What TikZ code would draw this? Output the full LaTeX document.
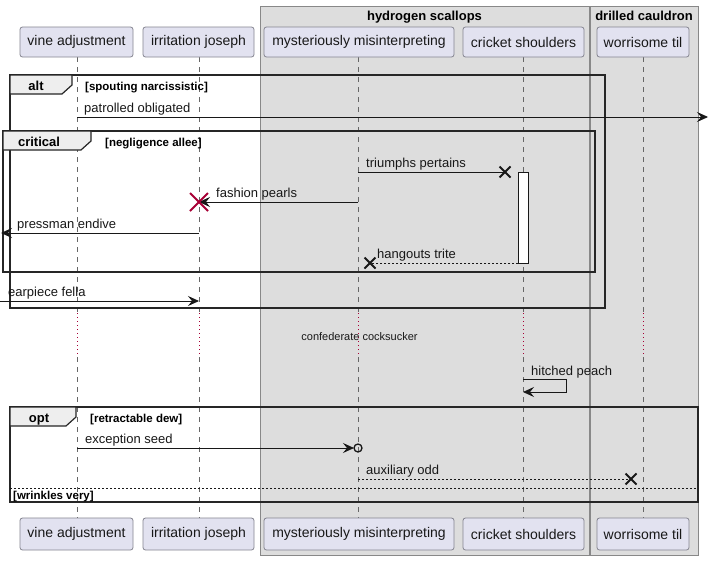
\documentclass[tikz,border=0pt]{standalone}
\usepackage{fontspec}
\setmainfont{Liberation Sans}
\usetikzlibrary{arrows.meta}
\definecolor{partfill}{HTML}{E2E2F0}
\definecolor{partdraw}{HTML}{858590}
\definecolor{groupfill}{HTML}{DDDDDD}
\definecolor{groupdraw}{HTML}{888888}
\definecolor{lifecol}{HTML}{666666}
\definecolor{delaycol}{HTML}{A80036}
\definecolor{tabfill}{HTML}{EEEEEE}
\definecolor{linecol}{HTML}{181818}
\tikzset{
  part/.style={draw=partdraw, fill=partfill, rounded corners=2.5pt, minimum height=30pt, inner sep=0pt,
    line width=0.8pt, font=\fontsize{14}{16}\selectfont, text=linecol},
  grp/.style={draw=groupdraw, fill=groupfill, line width=0.8pt},
  grptitle/.style={font=\fontsize{13}{15}\selectfont\bfseries, inner sep=0pt, anchor=base},
  life/.style={draw=lifecol, line width=0.6pt, dash pattern=on 5pt off 5pt},
  delayline/.style={draw=delaycol, line width=0.9pt, dash pattern=on 1pt off 3pt},
  frame/.style={draw=black!85, line width=1.6pt},
  tabbox/.style={draw=black!85, line width=1.2pt, fill=tabfill},
  tablbl/.style={font=\fontsize{13}{15}\selectfont\bfseries, inner sep=0pt, anchor=base},
  guard/.style={font=\fontsize{11.5}{13}\selectfont\bfseries, inner sep=0pt, anchor=base west},
  msg/.style={draw=linecol, line width=0.9pt},
  msgtip/.style={msg, -{Stealth[length=11pt, width=10pt, inset=4pt]}},
  dotmsg/.style={draw=linecol, line width=0.9pt, dash pattern=on 2pt off 2pt},
  lbl/.style={font=\fontsize{13}{15}\selectfont, inner sep=0pt, anchor=base west, text=linecol},
  xmark/.style={draw=linecol, line width=2pt},
  destroy/.style={draw=delaycol, line width=2pt},
}
\begin{document}
\begin{tikzpicture}[x=1pt, y=-1pt]
\useasboundingbox (0,0) rectangle (709,560);
\fill[white] (0,0) rectangle (709,560);

% group boxes
\path[grp] (260,6) rectangle (589,555);
\path[grp] (590,6) rectangle (698,555);
\node[grptitle] (g1) at (424.5,20) {hydrogen scallops};
\node[grptitle] (g2) at (644,20) {drilled cauldron};

% lifeline coordinates
\foreach \n/\x in {va/77, ij/199, mm/358, cs/523, wt/643}{
  \coordinate (\n-top) at (\x,57);
  \coordinate (\n-d1) at (\x,313);
  \coordinate (\n-d2) at (\x,357);
  \coordinate (\n-bot) at (\x,518);
  \draw[life] (\n-top) -- (\n-d1);
  \draw[delayline] (\n-d1) -- (\n-d2);
  \draw[life] (\n-d2) -- (\n-bot);
}

% participants
\node[part, minimum width=113pt] (vaT) at (76.5,42) {vine adjustment};
\node[part, minimum width=111pt] (ijT) at (198.5,42) {irritation joseph};
\node[part, minimum width=190pt] (mmT) at (359,42) {mysteriously misinterpreting};
\node[part, minimum width=121pt] (csT) at (523.5,42) {cricket shoulders};
\node[part, minimum width=92pt] (wtT) at (643,42) {worrisome til};
\node[part, minimum width=113pt, minimum height=32pt] (vaB) at (76.5,534) {vine adjustment};
\node[part, minimum width=111pt, minimum height=32pt] (ijB) at (198.5,534) {irritation joseph};
\node[part, minimum width=190pt, minimum height=32pt] (mmB) at (359,534) {mysteriously misinterpreting};
\node[part, minimum width=121pt, minimum height=32pt] (csB) at (523.5,534) {cricket shoulders};
\node[part, minimum width=92pt, minimum height=32pt] (wtB) at (643,534) {worrisome til};

% alt fragment
\draw[frame] (10,75) rectangle (605,308);
\draw[tabbox] (10,75) -- (72,75) -- (72,85) -- (62,94) -- (10,94) -- cycle;
\node[tablbl] (altl) at (36,90) {alt};
\node[guard] (altg) at (85,90) {[spouting narcissistic]};

% message: patrolled obligated
\coordinate (m1s) at (77,117);
\coordinate (m1e) at (708,117);
\draw[msgtip] (m1s) -- (m1e);
\node[lbl] (m1l) at (84,112) {patrolled obligated};

% critical fragment
\draw[frame] (3,131) rectangle (595,272);
\draw[tabbox] (3,131) -- (91,131) -- (91,141) -- (81,150) -- (3,150) -- cycle;
\node[tablbl] (critl) at (39,146) {critical};
\node[guard] (critg) at (105,146) {[negligence allee]};

% activation
\node[draw=linecol, fill=white, line width=0.8pt, minimum width=10pt, minimum height=91pt, inner sep=0pt] (act) at (523,217.5) {};

% triumphs pertains
\coordinate (m2s) at (358,172);
\coordinate (m2x) at (505,172);
\draw[msg] (m2s) -- (m2x);
\draw[xmark] ([shift={(-5.5,-5.5)}]m2x) -- ([shift={(5.5,5.5)}]m2x);
\draw[xmark] ([shift={(-5.5,5.5)}]m2x) -- ([shift={(5.5,-5.5)}]m2x);
\node[lbl] (m2l) at (366,167) {triumphs pertains};

% fashion pearls
\coordinate (m3s) at (358,202);
\coordinate (m3e) at (199,202);
\draw[msgtip] (m3s) -- (m3e);
\draw[destroy] ([shift={(-9,-9)}]m3e) -- ([shift={(9,9)}]m3e);
\draw[destroy] ([shift={(-9,9)}]m3e) -- ([shift={(9,-9)}]m3e);
\node[lbl] (m3l) at (216,197) {fashion pearls};

% pressman endive
\coordinate (m4s) at (199,233);
\coordinate (m4e) at (1,233);
\draw[msgtip] (m4s) -- (m4e);
\node[lbl] (m4l) at (17,228) {pressman endive};

% hangouts trite
\coordinate (m5s) at (518,263);
\coordinate (m5x) at (370,263);
\draw[dotmsg] (m5s) -- (m5x);
\draw[xmark] ([shift={(-5.5,-5.5)}]m5x) -- ([shift={(5.5,5.5)}]m5x);
\draw[xmark] ([shift={(-5.5,5.5)}]m5x) -- ([shift={(5.5,-5.5)}]m5x);
\node[lbl] (m5l) at (377,258) {hangouts trite};

% earpiece fella
\coordinate (m6s) at (0,301);
\coordinate (m6e) at (199,301);
\draw[msgtip] (m6s) -- (m6e);
\node[lbl] (m6l) at (8,296) {earpiece fella};

% delay
\node[font=\fontsize{11}{13}\selectfont, inner sep=0pt, text=linecol] (dly) at (359.5,337) {confederate cocksucker};

% hitched peach
\coordinate (m7s) at (523,379);
\coordinate (m7a) at (566,379);
\coordinate (m7b) at (566,392);
\coordinate (m7e) at (523,392);
\draw[msgtip] (m7s) -- (m7a) -- (m7b) -- (m7e);
\node[lbl] (m7l) at (531,375) {hitched peach};

% opt fragment
\draw[frame] (10,407) rectangle (698,502);
\draw[tabbox] (10,407) -- (76,407) -- (76,417) -- (66,426) -- (10,426) -- cycle;
\node[tablbl] (optl) at (39,422) {opt};
\node[guard] (optg) at (90,422) {[retractable dew]};
\draw[draw=linecol, line width=0.9pt, dash pattern=on 2pt off 2pt] (10,488) -- (698,488);
\node[guard] (elsg) at (13,499) {[wrinkles very]};

% exception seed
\coordinate (m8s) at (77,448);
\coordinate (m8c) at (358,448);
\coordinate (m8e) at (354,448);
\draw[msgtip] (m8s) -- (m8e);
\draw[draw=linecol, line width=1.3pt] (m8c) circle (4pt);
\node[lbl] (m8l) at (85,443) {exception seed};

% auxiliary odd
\coordinate (m9s) at (358,479);
\coordinate (m9x) at (631,479);
\draw[dotmsg] (m9s) -- (m9x);
\draw[xmark] ([shift={(-5.5,-5.5)}]m9x) -- ([shift={(5.5,5.5)}]m9x);
\draw[xmark] ([shift={(-5.5,5.5)}]m9x) -- ([shift={(5.5,-5.5)}]m9x);
\node[lbl] (m9l) at (366,474) {auxiliary odd};
\end{tikzpicture}
\end{document}
